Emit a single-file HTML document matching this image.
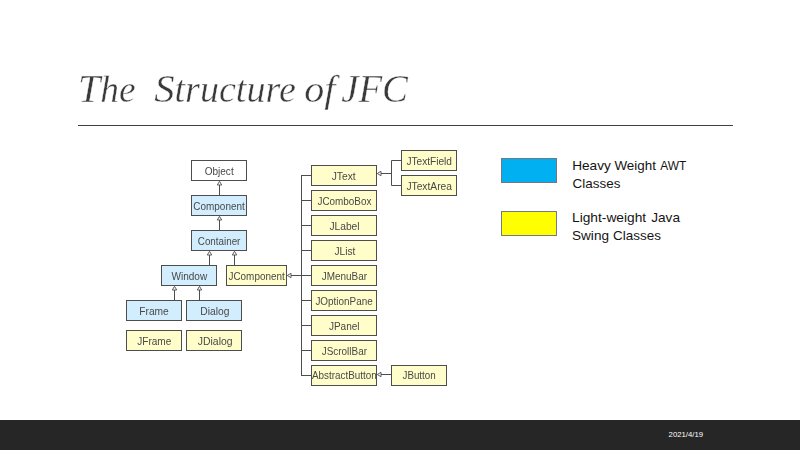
<!DOCTYPE html>
<html><head><meta charset="utf-8"><title>The Structure of JFC</title>
<style>
html,body{margin:0;padding:0;}
body{width:800px;height:450px;background:#fff;position:relative;overflow:hidden;font-family:"Liberation Sans",sans-serif;}
svg{position:absolute;left:0;top:0;display:block;}
svg text{font-family:"Liberation Sans",sans-serif;font-size:10.5px;fill:#484848;white-space:pre;}
svg text.ti{font-family:"Liberation Serif",serif;font-style:italic;font-size:40px;fill:#3a3a3a;stroke:#fff;stroke-width:0.4px;}
#title{filter:url(#gs);}
svg text.ti .lc{font-size:37.5px;}
svg text.lg{font-size:13.6px;fill:#141414;}
svg text.dt{font-size:8px;fill:#fff;}
svg path{stroke:#4d4d4d;stroke-width:1;fill:none;}
svg path.tri{fill:#fff;stroke-width:0.9;}
svg rect{stroke:#4d4d4d;stroke-width:1;}
</style></head><body>
<svg width="800" height="450" viewBox="0 0 800 450">
<defs><filter id="gs" x="0" y="0" width="100%" height="100%" filterUnits="userSpaceOnUse" color-interpolation-filters="sRGB"><feColorMatrix type="saturate" values="1"/></filter><filter id="soft" x="0" y="0" width="100%" height="100%" filterUnits="userSpaceOnUse" color-interpolation-filters="sRGB"><feGaussianBlur stdDeviation="0.35"/></filter></defs>
<g id="title">
<text class="ti" x="78.1" y="102" textLength="57.5" lengthAdjust="spacingAndGlyphs">T<tspan class="lc">he</tspan></text>
<text class="ti" x="154.2" y="102" textLength="141.6" lengthAdjust="spacingAndGlyphs">S<tspan class="lc">tructure</tspan></text>
<text class="ti" x="304.2" y="102" textLength="31.1" lengthAdjust="spacingAndGlyphs"><tspan class="lc">of</tspan></text>
<text class="ti" x="341.2" y="102" textLength="66.8" lengthAdjust="spacingAndGlyphs">JFC</text>
</g>
<rect x="78" y="125" width="655" height="1" fill="#404040" style="stroke:none"/>
<g id="diagram" filter="url(#soft)">
<path d="M219.5 185V195"/><path class="tri" d="M219.5 181.3L221.7 185H217.3Z"/>
<path d="M219.5 220V230"/><path class="tri" d="M219.5 216.3L221.7 220H217.3Z"/>
<path d="M209.5 255V265"/><path class="tri" d="M209.5 251.3L211.7 255H207.3Z"/>
<path d="M234.5 255V265"/><path class="tri" d="M234.5 251.3L236.7 255H232.3Z"/>
<path d="M174.5 290V300"/><path class="tri" d="M174.5 286.3L176.7 290H172.3Z"/>
<path d="M199.5 290V300"/><path class="tri" d="M199.5 286.3L201.7 290H197.3Z"/>
<path d="M301.5 175V376M301 175.5H311M301 200.5H311M301 225.5H311M301 250.5H311M301 275.5H311M301 300.5H311M301 325.5H311M301 350.5H311M301 375.5H311"/>
<path d="M291 275.5H301.5"/><path class="tri" d="M287.3 275.5L291 273.3V277.7Z"/>
<path d="M381 173.5H391.5"/><path class="tri" d="M377.3 173.5L381 171.3V175.7Z"/>
<path d="M401 160.5H391.5V185.5H401"/>
<path d="M381 374.5H391"/><path class="tri" d="M377.3 374.5L381 372.3V376.7Z"/>
<rect x="191.5" y="160.5" width="55" height="20" fill="#ffffff"/>
<rect x="191.5" y="195.5" width="55" height="20" fill="#d2edfd"/>
<rect x="191.5" y="230.5" width="55" height="20" fill="#d2edfd"/>
<rect x="161.5" y="265.5" width="55" height="20" fill="#d2edfd"/>
<rect x="226.5" y="265.5" width="60" height="20" fill="#fffdc9"/>
<rect x="126.5" y="300.5" width="55" height="20" fill="#d2edfd"/>
<rect x="186.5" y="300.5" width="55" height="20" fill="#d2edfd"/>
<rect x="126.5" y="330.5" width="55" height="20" fill="#fffdc9"/>
<rect x="186.5" y="330.5" width="55" height="20" fill="#fffdc9"/>
<rect x="311.5" y="165.5" width="65" height="20" fill="#fffdc9"/>
<rect x="311.5" y="190.5" width="65" height="20" fill="#fffdc9"/>
<rect x="311.5" y="215.5" width="65" height="20" fill="#fffdc9"/>
<rect x="311.5" y="240.5" width="65" height="20" fill="#fffdc9"/>
<rect x="311.5" y="265.5" width="65" height="20" fill="#fffdc9"/>
<rect x="311.5" y="290.5" width="65" height="20" fill="#fffdc9"/>
<rect x="311.5" y="315.5" width="65" height="20" fill="#fffdc9"/>
<rect x="311.5" y="340.5" width="65" height="20" fill="#fffdc9"/>
<rect x="311.5" y="365.5" width="65" height="20" fill="#fffdc9"/>
<rect x="401.5" y="150.5" width="55" height="20" fill="#fffdc9"/>
<rect x="401.5" y="175.5" width="55" height="20" fill="#fffdc9"/>
<rect x="391.5" y="365.5" width="55" height="20" fill="#fffdc9"/>
<text x="204.7" y="174.8" textLength="29.0" lengthAdjust="spacingAndGlyphs">Object</text>
<text x="193.3" y="210.0" textLength="51.5" lengthAdjust="spacingAndGlyphs">Component</text>
<text x="197.8" y="244.8" textLength="42.6" lengthAdjust="spacingAndGlyphs">Container</text>
<text x="171.5" y="279.8" textLength="35.7" lengthAdjust="spacingAndGlyphs">Window</text>
<text x="228.5" y="279.8" textLength="56.2" lengthAdjust="spacingAndGlyphs">JComponent</text>
<text x="139.3" y="314.8" textLength="29.5" lengthAdjust="spacingAndGlyphs">Frame</text>
<text x="200.3" y="314.8" textLength="29.1" lengthAdjust="spacingAndGlyphs">Dialog</text>
<text x="137.3" y="344.6" textLength="34.0" lengthAdjust="spacingAndGlyphs">JFrame</text>
<text x="197.8" y="344.6" textLength="34.8" lengthAdjust="spacingAndGlyphs">JDialog</text>
<text x="331.7" y="179.8" textLength="24.0" lengthAdjust="spacingAndGlyphs">JText</text>
<text x="317.5" y="204.6" textLength="53.9" lengthAdjust="spacingAndGlyphs">JComboBox</text>
<text x="329.4" y="229.8" textLength="30.2" lengthAdjust="spacingAndGlyphs">JLabel</text>
<text x="334.5" y="254.8" textLength="20.9" lengthAdjust="spacingAndGlyphs">JList</text>
<text x="321.7" y="279.8" textLength="45.3" lengthAdjust="spacingAndGlyphs">JMenuBar</text>
<text x="315.4" y="304.8" textLength="57.3" lengthAdjust="spacingAndGlyphs">JOptionPane</text>
<text x="328.9" y="329.8" textLength="30.7" lengthAdjust="spacingAndGlyphs">JPanel</text>
<text x="321.7" y="354.6" textLength="45.3" lengthAdjust="spacingAndGlyphs">JScrollBar</text>
<text x="312.0" y="379.2" textLength="64.7" lengthAdjust="spacingAndGlyphs">AbstractButton</text>
<text x="406.4" y="164.9" textLength="45.6" lengthAdjust="spacingAndGlyphs">JTextField</text>
<text x="406.4" y="189.8" textLength="45.6" lengthAdjust="spacingAndGlyphs">JTextArea</text>
<text x="402.5" y="379.2" textLength="33.2" lengthAdjust="spacingAndGlyphs">JButton</text>
</g>
<g id="legend">
<rect x="501.5" y="158.5" width="55" height="24" fill="#00b0f0" style="stroke:#77767c"/>
<rect x="501.5" y="211.5" width="55" height="24" fill="#ffff00" style="stroke:#73788a"/>
<text class="lg" x="572.2" y="170.4" textLength="38.6" lengthAdjust="spacingAndGlyphs">Heavy</text>
<text class="lg" x="614.4" y="170.4" textLength="41.5" lengthAdjust="spacingAndGlyphs">Weight</text>
<text class="lg" x="660.3" y="170.4" textLength="26.0" lengthAdjust="spacingAndGlyphs">AWT</text>
<text class="lg" x="572.6" y="188.0" textLength="47.8" lengthAdjust="spacingAndGlyphs">Classes</text>
<text class="lg" x="572.0" y="222.4" textLength="74.2" lengthAdjust="spacingAndGlyphs">Light-weight</text>
<text class="lg" x="651.2" y="222.4" textLength="28.8" lengthAdjust="spacingAndGlyphs">Java</text>
<text class="lg" x="572.0" y="240.0" textLength="37.0" lengthAdjust="spacingAndGlyphs">Swing</text>
<text class="lg" x="613.1" y="240.0" textLength="47.8" lengthAdjust="spacingAndGlyphs">Classes</text>
</g>
<rect x="0" y="420" width="800" height="30" fill="#262626" style="stroke:none"/>
<text class="dt" x="668.6" y="437.2" textLength="34.4" lengthAdjust="spacingAndGlyphs">2021/4/19</text>
</svg>
</body></html>
